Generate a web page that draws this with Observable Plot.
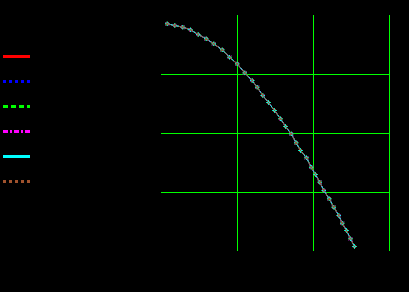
<!DOCTYPE html>
<html>
<head>
<meta charset="utf-8">
<script src="https://cdn.jsdelivr.net/npm/d3@7"></script>
<script src="https://cdn.jsdelivr.net/npm/@observablehq/plot@0.6"></script>
<style>
  html, body { margin: 0; padding: 0; background: #000; }
  #wrap { position: relative; width: 409px; height: 292px; background: #000; overflow: hidden; }
  #wrap > * { position: absolute; left: 0; top: 0; }
</style>
</head>
<body>
<div id="wrap"></div>
<script>
// Data
const xValues = [0.075, 0.175, 0.280, 0.382, 0.483, 0.588, 0.688, 0.799, 0.895, 0.996,
                 1.096, 1.193, 1.259, 1.333, 1.408, 1.487, 1.566, 1.632, 1.707, 1.772,
                 1.829, 1.908, 1.970, 2.026, 2.083, 2.136, 2.207, 2.267, 2.333, 2.378,
                 2.434, 2.487, 2.539];
const yValues = [3.859, 3.831, 3.802, 3.757, 3.678, 3.605, 3.520, 3.418, 3.293, 3.180,
                 3.027, 2.898, 2.785, 2.644, 2.525, 2.390, 2.249, 2.119, 1.994, 1.842,
                 1.712, 1.588, 1.429, 1.305, 1.175, 1.034, 0.893, 0.751, 0.610, 0.480,
                 0.356, 0.215, 0.085];
const seriesNames = ["s1", "s2", "s3", "s4", "s5", "s6"];
const seriesColors = ["#ff0000", "#0000ff", "#00ff00", "#ff00ff", "#00ffff", "#a0522d"];
const seriesDash = ["none", "3,3", "5,3", "5,2,2,2", "none", "3,3"];
const xGrid = [1, 2, 3];
const yGrid = [1, 2, 3];

const rows = [];
seriesNames.forEach((s, i) => {
  xValues.forEach((x, j) => rows.push({series: s, idx: i, x, y: yValues[j]}));
});

const marks = [
  Plot.ruleX(xGrid, {y1: 0, y2: 4, stroke: "#00ff00", strokeWidth: 1}),
  Plot.ruleY(yGrid, {x1: 0, x2: 3, stroke: "#00ff00", strokeWidth: 1})
];
seriesNames.forEach((s, i) => {
  const d = rows.filter(r => r.series === s);
  marks.push(Plot.line(d, {x: "x", y: "y", stroke: seriesColors[i], strokeWidth: 1,
    strokeDasharray: seriesDash[i] === "none" ? null : seriesDash[i], curve: "linear"}));
  marks.push(Plot.dot(d, {x: "x", y: "y", stroke: seriesColors[i], r: 1.5, strokeWidth: 1,
    symbol: i % 2 === 0 ? "plus" : "times"}));
});

const main = Plot.plot({
  width: 409, height: 292,
  marginLeft: 161, marginRight: 20, marginTop: 15, marginBottom: 41,
  style: {background: "#000", overflow: "visible"},
  x: {domain: [0, 3], axis: null},
  y: {domain: [0, 4], axis: null},
  marks
});
document.getElementById("wrap").appendChild(main);

const legendIdx = seriesNames.map((s, i) => i);
const legend = Plot.plot({
  width: 40, height: 292,
  style: {background: "transparent"},
  x: {domain: [0, 1], range: [3, 30], axis: null},
  y: {domain: [0, 5], range: [56, 181], axis: null},
  marks: legendIdx.map(i => Plot.ruleY([i], {x1: 0, x2: 1, stroke: seriesColors[i], strokeWidth: 3,
    strokeDasharray: seriesDash[i] === "none" ? null : seriesDash[i]}))
});
document.getElementById("wrap").appendChild(legend);
</script>
</body>
</html>
